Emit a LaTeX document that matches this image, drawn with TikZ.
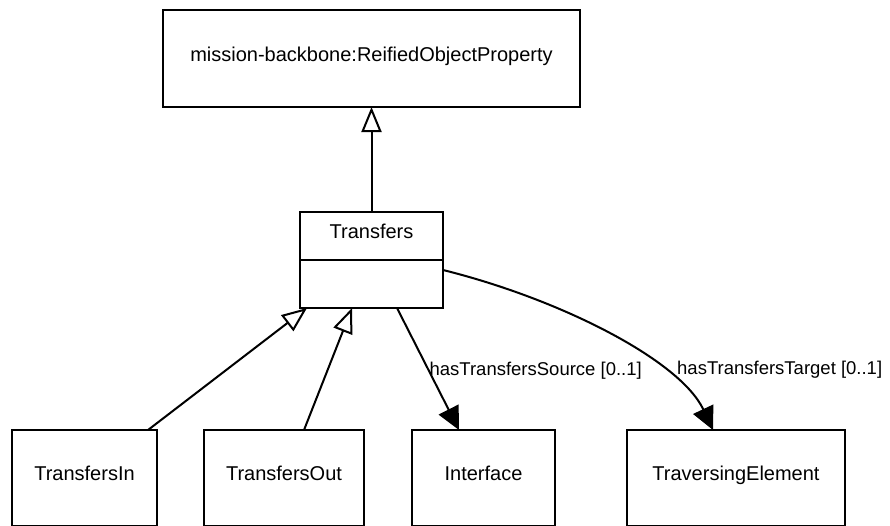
\documentclass[tikz,border=0pt]{standalone}
\usepackage{fontspec}
\setmainfont{Liberation Sans}
\usetikzlibrary{positioning, calc, arrows.meta}
\tikzset{
    class/.style={
        rectangle,
        draw=black,
        line width=2pt,
        minimum height=96pt,
        align=center,
        inner sep=0pt,
        outer sep=0pt,
        text height=0.75em,
        text depth=0.2em,
        font=\fontsize{20}{24}\selectfont
    },
    compartment/.style={class, minimum width=143pt, minimum height=48pt},
    inherit/.style={-{Triangle[open, length=25pt, width=20pt]}, line width=2pt, draw=black},
    assoc/.style={-{Triangle[length=23pt, width=22pt]}, line width=2pt, draw=black},
    role/.style={font=\fontsize{18.5}{22}\selectfont, inner sep=0pt}
}

\begin{document}
\begin{tikzpicture}[x=1pt, y=-1pt]

% Canvas
\clip (0,0) rectangle (890,525);
\fill[white] (0,0) rectangle (890,525);

% Superclass
\node[class, minimum width=417pt, minimum height=97pt] (n_prop) at (371.5,58.5) {mission-backbone:ReifiedObjectProperty};

% Transfers (name + empty compartment)
\node[compartment] (n_transfers) at (371.5,236) {Transfers};
\node[compartment, below=0pt of n_transfers] (n_body) {};

% Bottom row
\node[class, minimum width=145pt] (n_in) at (84.5,478) {TransfersIn};
\node[class, minimum width=160pt] (n_out) at (284,478) {TransfersOut};
\node[class, minimum width=143pt] (n_iface) at (483.5,478) {Interface};
\node[class, minimum width=218pt] (n_trav) at (736,478) {TraversingElement};

% Generalisations
\draw[inherit] (n_transfers.north) -- (n_prop.south);
\draw[inherit] ([xshift=63.5pt]n_in.north) -- ([xshift=7pt]n_body.south west);
\draw[inherit] ([xshift=20pt]n_out.north) -- ([xshift=52pt]n_body.south west);

% Associations
\draw[assoc] ([xshift=97pt]n_body.south west) -- node[role, pos=0.51, anchor=west] (l_source) {hasTransfersSource [0..1]} ([xshift=-24.5pt]n_iface.north);
\draw[assoc] ([yshift=14pt]n_body.east) .. controls ($(n_body.east)+(117,15)$) and ($(n_trav.north)+(-56,-70)$) .. ([xshift=-23pt]n_trav.north);
\node[role, anchor=west] (l_target) at (677,370) {hasTransfersTarget [0..1]};

\end{tikzpicture}
\end{document}
